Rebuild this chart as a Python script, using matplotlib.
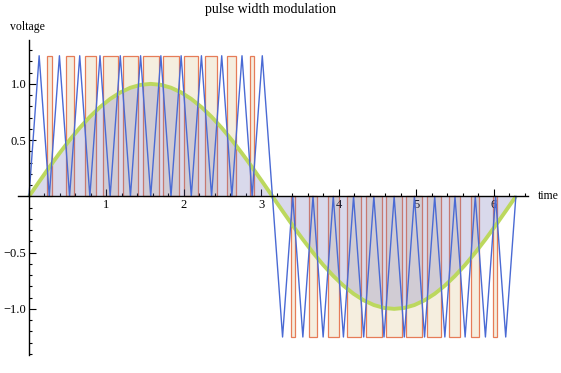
import matplotlib
matplotlib.use("Agg")
import matplotlib.pyplot as plt
from matplotlib.ticker import FixedLocator, FixedFormatter

# time samples (triangle vertices, also used for the sine curve)
t = [0, 0.1309, 0.2618, 0.3927, 0.5236, 0.6545, 0.7854, 0.9163, 1.0472, 1.1781,
     1.3090, 1.4399, 1.5708, 1.7017, 1.8326, 1.9635, 2.0944, 2.2253, 2.3562, 2.4871,
     2.6180, 2.7489, 2.8798, 3.0107, 3.1416, 3.2725, 3.4034, 3.5343, 3.6652, 3.7961,
     3.9270, 4.0579, 4.1888, 4.3197, 4.4506, 4.5815, 4.7124, 4.8433, 4.9742, 5.1051,
     5.2360, 5.3669, 5.4978, 5.6287, 5.7596, 5.8905, 6.0214, 6.1523, 6.2832]

# triangle carrier
carrier = [0, 1.25, 0, 1.25, 0, 1.25, 0, 1.25, 0, 1.25, 0, 1.25, 0,
           1.25, 0, 1.25, 0, 1.25, 0, 1.25, 0, 1.25, 0, 1.25, 0,
           -1.25, 0, -1.25, 0, -1.25, 0, -1.25, 0, -1.25, 0, -1.25,
           0, -1.25, 0, -1.25, 0, -1.25, 0, -1.25, 0, -1.25, 0, -1.25, 0]

# reference sine
signal = [0, 0.1305, 0.2588, 0.3827, 0.5, 0.6088, 0.7071, 0.7934, 0.8660, 0.9239,
          0.9659, 0.9914, 1.0, 0.9914, 0.9659, 0.9239, 0.8660, 0.7934, 0.7071, 0.6088,
          0.5, 0.3827, 0.2588, 0.1305, 0,
          -0.1305, -0.2588, -0.3827, -0.5, -0.6088, -0.7071, -0.7934, -0.8660, -0.9239,
          -0.9659, -0.9914, -1.0, -0.9914, -0.9659, -0.9239, -0.8660, -0.7934, -0.7071,
          -0.6088, -0.5, -0.3827, -0.2588, -0.1305, 0]

# pulses
pulse_start = [0.2372, 0.4757, 0.7166, 0.9613, 1.2110, 1.4667, 1.7292, 1.9991, 2.2765,
               2.5605, 2.8497,
               3.3788, 3.6173, 3.8582, 4.1029, 4.3526, 4.6083, 4.8708, 5.1407, 5.4181,
               5.7021, 5.9913]
pulse_end = [0.2919, 0.5811, 0.8651, 1.1425, 1.4124, 1.6749, 1.9306, 2.1803, 2.4250,
             2.6659, 2.9044,
             3.4335, 3.7227, 4.0067, 4.2841, 4.5540, 4.8165, 5.0722, 5.3219, 5.5666,
             5.8075, 6.0460]
pulse_level = [1.25] * 11 + [-1.25] * 11

plt.rcParams['font.family'] = ['Liberation Serif', 'DejaVu Serif']

fig = plt.figure(figsize=(5.61, 3.73), dpi=100)
ax = fig.add_axes([18 / 561, 1 - 355 / 373, 510 / 561, 315 / 373])

widths = [e - s for s, e in zip(pulse_start, pulse_end)]
ax.bar(pulse_start, pulse_level, width=widths, align='edge',
       color=(0.85, 0.75, 0.5, 0.25), edgecolor='#e67c58', linewidth=0.9, zorder=1)
ax.fill_between(t, signal, 0, color=(0.45, 0.45, 0.72), alpha=0.27, lw=0, zorder=2)
ax.plot(t, signal, color='#bcd85e', lw=2.8, zorder=3, solid_capstyle='butt')
ax.plot(t, carrier, color='#4a6ad4', lw=1.0, zorder=4)

ax.set_xlim(-0.142, 6.44)
ax.set_ylim(-1.41, 1.39)

for side in ['top', 'right']:
    ax.spines[side].set_visible(False)
ax.spines['left'].set_position(('data', 0))
ax.spines['bottom'].set_position(('data', 0))
for side in ['left', 'bottom']:
    ax.spines[side].set_linewidth(1.0)
    ax.spines[side].set_zorder(6)

xmaj = [1, 2, 3, 4, 5, 6]
ax.xaxis.set_major_locator(FixedLocator(xmaj))
ax.xaxis.set_major_formatter(FixedFormatter([str(v) for v in xmaj]))
ax.xaxis.set_minor_locator(FixedLocator([i * 0.2 for i in range(1, 33) if i % 5 != 0]))

ymaj = [-1.0, -0.5, 0.5, 1.0]
ax.yaxis.set_major_locator(FixedLocator(ymaj))
ax.yaxis.set_major_formatter(FixedFormatter(['\u22121.0', '\u22120.5', '0.5', '1.0']))
ax.yaxis.set_minor_locator(FixedLocator([i * 0.1 for i in range(-14, 14) if i % 5 != 0]))

ax.tick_params(which='both', direction='in', labelsize=9, width=0.8, pad=2)
ax.tick_params(which='major', length=5)
ax.tick_params(which='minor', length=2.5)

ax.annotate('time', xy=(1, 0), xycoords=('axes fraction', 'data'),
            xytext=(7, 0), textcoords='offset points', ha='left', va='center',
            fontsize=8.5)
fig.text(27 / 561, 1 - 27 / 373, 'voltage', ha='center', va='center', fontsize=8.5)
fig.text(271 / 561, 1 - 10 / 373, 'pulse width modulation', ha='center', va='center',
         fontsize=10)

fig.savefig('out.png', dpi=100)
